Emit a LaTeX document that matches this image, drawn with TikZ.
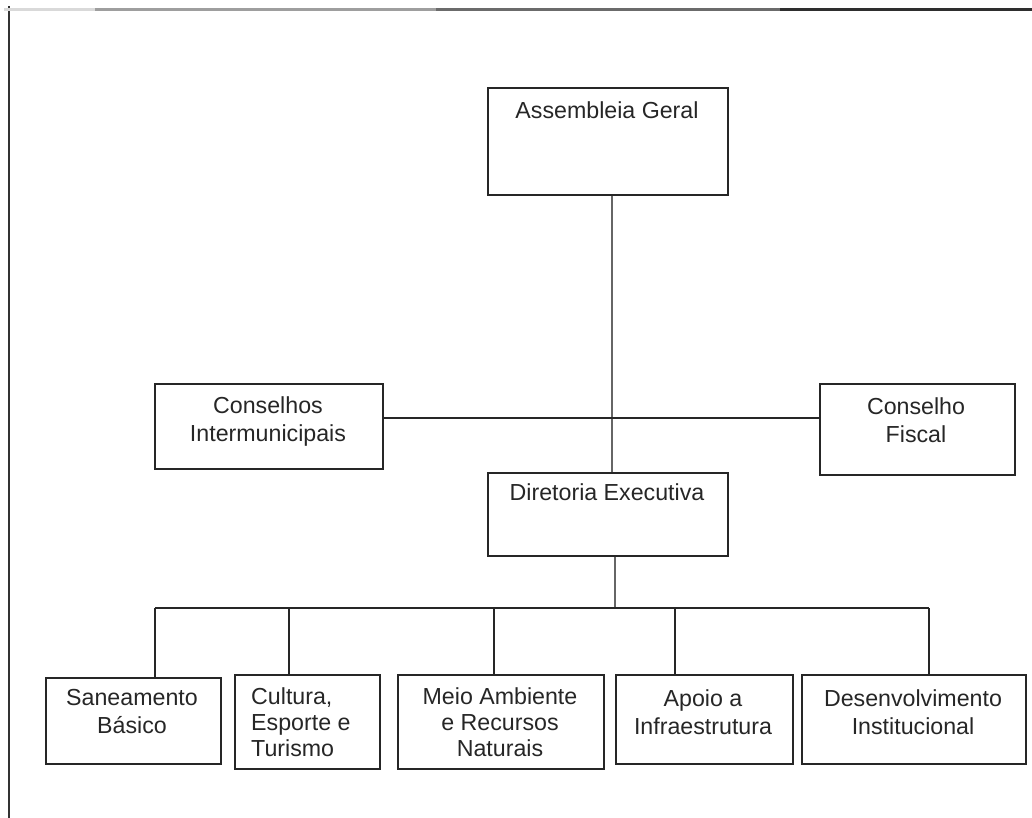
\documentclass[tikz,border=0pt]{standalone}
\usepackage{fontspec}
\setmainfont{Liberation Sans}
\begin{document}
\begin{tikzpicture}[x=1pt,y=-1pt,
  box/.style={draw=black!85,line width=1.6pt,rectangle,inner sep=0pt,anchor=north west},
  lbl/.style={font=\fontsize{23.2}{28.5}\selectfont,align=center,inner sep=0pt,anchor=north,text=black!85},
  conn/.style={draw=black!85,line width=1.5pt},
  mainline/.style={draw=black!60,line width=1.6pt}]
\useasboundingbox (0,0) rectangle (1032,818);
% frame
\draw[line width=1.8pt,black!80] (9,6) -- (9,818);
\draw[line width=2.2pt,black!15] (4,9.5) -- (95,9.5);
\draw[line width=2.2pt,black!38] (95,9.5) -- (436,9.5);
\draw[line width=2.2pt,black!58] (436,9.5) -- (780,9.5);
\draw[line width=2.2pt,black!82] (780,9.5) -- (1032,9.5);
% boxes
\node[box,minimum width=240pt,minimum height=107pt] (ag) at (487,87) {};
\node[lbl] (agt) at (607,101) {Assembleia Geral};
\node[box,minimum width=228pt,minimum height=85pt] (ci) at (154,383) {};
\node[lbl] (cit) at (268,396) {Conselhos\\Intermunicipais};
\node[box,minimum width=195pt,minimum height=91pt] (cf) at (819,383) {};
\node[lbl] (cft) at (916,397) {Conselho\\Fiscal};
\node[box,minimum width=240pt,minimum height=83pt] (de) at (487,472) {};
\node[lbl] (det) at (607,483) {Diretoria Executiva};
\node[box,minimum width=175pt,minimum height=86pt] (sb) at (45,677) {};
\node[lbl] (sbt) at (132,689) {Saneamento\\Básico};
\node[box,minimum width=145pt,minimum height=94pt] (ce) at (234,674) {};
\node[lbl,anchor=north west,align=left,font=\fontsize{23.2}{26}\selectfont] (cet) at (251,687) {Cultura,\\Esporte e\\Turismo};
\node[box,minimum width=206pt,minimum height=94pt] (ma) at (397,674) {};
\node[lbl,font=\fontsize{23.2}{26}\selectfont] (mat) at (500,687) {Meio Ambiente\\e Recursos\\Naturais};
\node[box,minimum width=177pt,minimum height=89pt] (ai) at (615,674) {};
\node[lbl] (ait) at (703,689) {Apoio a\\Infraestrutura};
\node[box,minimum width=224pt,minimum height=89pt] (di) at (801,674) {};
\node[lbl] (dit) at (913,689) {Desenvolvimento\\Institucional};
% connectors
\coordinate (v1) at (612,0);
\coordinate (h1) at (0,418);
\coordinate (v2) at (615,0);
\coordinate (bus) at (0,608);
\coordinate (d1) at (155,0);
\coordinate (d2) at (289,0);
\coordinate (d3) at (494,0);
\coordinate (d4) at (675,0);
\coordinate (d5) at (929,0);
\draw[mainline] (ag.south -| v1) -- (de.north -| v1);
\draw[conn] (ci.east |- h1) -- (cf.west |- h1);
\draw[mainline] (de.south -| v2) -- (bus -| v2);
\draw[conn] (bus -| d1) -- (bus -| d5);
\draw[conn] (bus -| d1) -- (sb.north -| d1);
\draw[conn] (bus -| d2) -- (ce.north -| d2);
\draw[conn] (bus -| d3) -- (ma.north -| d3);
\draw[conn] (bus -| d4) -- (ai.north -| d4);
\draw[conn] (bus -| d5) -- (di.north -| d5);
\end{tikzpicture}
\end{document}
